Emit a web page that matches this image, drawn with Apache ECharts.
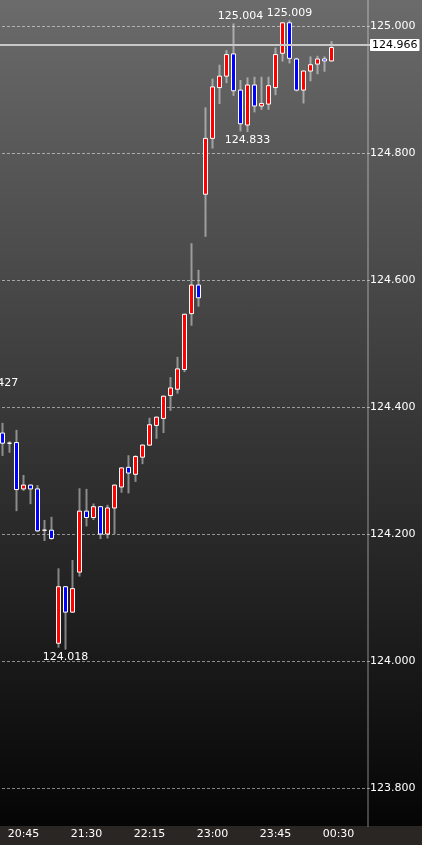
<!DOCTYPE html>
<html>
<head>
<meta charset="utf-8">
<script src="https://cdn.jsdelivr.net/npm/echarts@6/dist/echarts.min.js"></script>
<style>
    html, body {margin: 0; padding: 0;}
    .chart_box {
        width: 422px;
        height: 845px;
        overflow: hidden;
        background: linear-gradient(to bottom, #6b6b6b 0px, #050505 826px, #2a2624 826px, #2a2624 845px);
    }
</style>
</head>
<body>
<div class="chart_box" id="chartBox"></div>
<script>
// 5分足 カテゴリ (左端の20:25は画面外)
let xCategories = ['20:25', '20:30', '20:35', '20:40', '20:45', '20:50', '20:55',
    '21:00', '21:05', '21:10', '21:15', '21:20', '21:25', '21:30', '21:35', '21:40', '21:45', '21:50', '21:55',
    '22:00', '22:05', '22:10', '22:15', '22:20', '22:25', '22:30', '22:35', '22:40', '22:45', '22:50', '22:55',
    '23:00', '23:05', '23:10', '23:15', '23:20', '23:25', '23:30', '23:35', '23:40', '23:45', '23:50', '23:55',
    '00:00', '00:05', '00:10', '00:15', '00:20', '00:25', '00:30', '00:35', '00:40', '00:45', '00:50'];
let xTickLabels = ['20:45', '21:30', '22:15', '23:00', '23:45', '00:30'];

let opens = [124.330, 124.359, 124.343, 124.344, 124.271, 124.277, 124.271, 124.206, 124.206, 124.028,
    124.117, 124.077, 124.140, 124.236, 124.226, 124.243, 124.200, 124.241, 124.274, 124.305,
    124.294, 124.321, 124.340, 124.371, 124.382, 124.418, 124.428, 124.459, 124.547, 124.592,
    124.735, 124.823, 124.903, 124.921, 124.956, 124.899, 124.844, 124.907, 124.874, 124.877,
    124.903, 124.957, 125.005, 124.948, 124.899, 124.929, 124.940, 124.948, 124.945];
let closes = [124.360, 124.343, 124.343, 124.270, 124.277, 124.271, 124.205, 124.206, 124.193, 124.117,
    124.077, 124.114, 124.236, 124.226, 124.243, 124.200, 124.241, 124.277, 124.304, 124.296,
    124.322, 124.340, 124.372, 124.384, 124.417, 124.430, 124.460, 124.546, 124.592, 124.572,
    124.823, 124.904, 124.921, 124.955, 124.898, 124.846, 124.907, 124.874, 124.878, 124.906,
    124.955, 125.005, 124.949, 124.899, 124.929, 124.939, 124.948, 124.945, 124.966];
let lows = [124.320, 124.323, 124.328, 124.236, 124.268, 124.247, 124.203, 124.189, 124.191, 124.021,
    124.018, 124.076, 124.133, 124.212, 124.222, 124.192, 124.193, 124.200, 124.265, 124.264,
    124.282, 124.310, 124.339, 124.350, 124.359, 124.394, 124.421, 124.455, 124.528, 124.558,
    124.668, 124.807, 124.877, 124.910, 124.890, 124.834, 124.833, 124.864, 124.868, 124.868,
    124.891, 124.944, 124.941, 124.897, 124.878, 124.913, 124.924, 124.928, 124.944];
let highs = [124.427, 124.375, 124.346, 124.364, 124.293, 124.278, 124.277, 124.222, 124.227, 124.146,
    124.118, 124.159, 124.272, 124.271, 124.248, 124.244, 124.246, 124.278, 124.305, 124.324,
    124.324, 124.341, 124.383, 124.385, 124.418, 124.447, 124.479, 124.547, 124.658, 124.616,
    124.872, 124.917, 124.939, 124.962, 125.004, 124.915, 124.919, 124.920, 124.920, 124.920,
    124.966, 125.006, 125.009, 124.950, 124.930, 124.952, 124.953, 124.952, 124.976];

// 高値・安値の注記
let noteTimes = ['20:25', '21:15', '23:20', '23:25', '23:55'];
let noteValues = [124.427, 124.018, 125.004, 124.833, 125.009];
let noteSides = ['high', 'low', 'high', 'low', 'high'];

let lastPrice = 124.966;

let font = 'DejaVu Sans';

let wickData = opens.map(function (o, i) {
    return [o, closes[i], lows[i], highs[i]];
});
let bodyData = opens.map(function (o, i) {
    return [o, closes[i], Math.min(o, closes[i]), Math.max(o, closes[i])];
});
let notes = noteTimes.map(function (t, i) {
    return {
        coord: [t, noteValues[i]],
        value: noteValues[i],
        label: {offset: [0, noteSides[i] === 'high' ? -7 : 8]}
    };
});

let chartBox = echarts.init(document.getElementById('chartBox'));
let option = {
    animation: false,
    grid: {left: -8, right: 52, top: 0, bottom: 19, outerBoundsMode: 'none'},
    xAxis: {
        type: 'category', boundaryGap: true, data: xCategories,
        axisLine: {show: false}, axisTick: {show: false}, splitLine: {show: false},
        axisLabel: {
            color: '#ffffff', fontSize: 11, fontFamily: font, margin: 3,
            interval: function (index, value) {
                return xTickLabels.indexOf(value) >= 0;
            }
        }
    },
    yAxis: {
        type: 'value', position: 'right', offset: -2,
        min: 123.7402, max: 125.0409, splitNumber: 7, scale: true,
        axisLine: {show: true, lineStyle: {color: 'rgba(255,255,255,0.25)', width: 2}},
        axisTick: {show: false},
        axisLabel: {
            color: '#ffffff', fontSize: 11, fontFamily: font, margin: 2,
            showMinLabel: false, showMaxLabel: false,
            formatter: function (v) { return v.toFixed(3); }
        },
        splitLine: {
            show: true, showMinLine: false, showMaxLine: false,
            lineStyle: {color: 'rgba(255,255,255,0.5)', type: [3, 2], width: 1}
        }
    },
    series: [
        {
            type: 'candlestick', name: 'wick', data: wickData, barWidth: 1, silent: true,
            itemStyle: {
                color: 'rgba(0,0,0,0)', color0: 'rgba(0,0,0,0)',
                borderColor: 'rgba(255,255,255,0.45)', borderColor0: 'rgba(255,255,255,0.45)',
                borderColorDoji: 'rgba(255,255,255,0.45)', borderWidth: 2
            },
            markLine: {
                silent: true, symbol: ['none', 'none'],
                lineStyle: {color: '#c8c8c8', width: 2, type: 'solid'},
                label: {
                    position: 'end', distance: 0, color: '#000000', backgroundColor: '#ffffff',
                    fontSize: 11, fontFamily: font, padding: [1, 2, 0, 2], borderRadius: 1,
                    formatter: function () { return lastPrice.toFixed(3); }
                },
                data: [{yAxis: lastPrice}]
            }
        },
        {
            type: 'candlestick', name: 'body', data: bodyData, barWidth: 5, silent: true,
            itemStyle: {
                color: '#ff0000', color0: '#0000ff',
                borderColor: '#ffffff', borderColor0: '#ffffff', borderColorDoji: '#ffffff',
                borderWidth: 1
            },
            markPoint: {
                silent: true, symbol: 'circle', symbolSize: 0,
                label: {
                    show: true, position: 'inside', color: '#ffffff', fontSize: 11, fontFamily: font,
                    formatter: function (p) { return p.value.toFixed(3); }
                },
                data: notes
            }
        }
    ]
};
chartBox.setOption(option, true);
</script>
</body>
</html>
